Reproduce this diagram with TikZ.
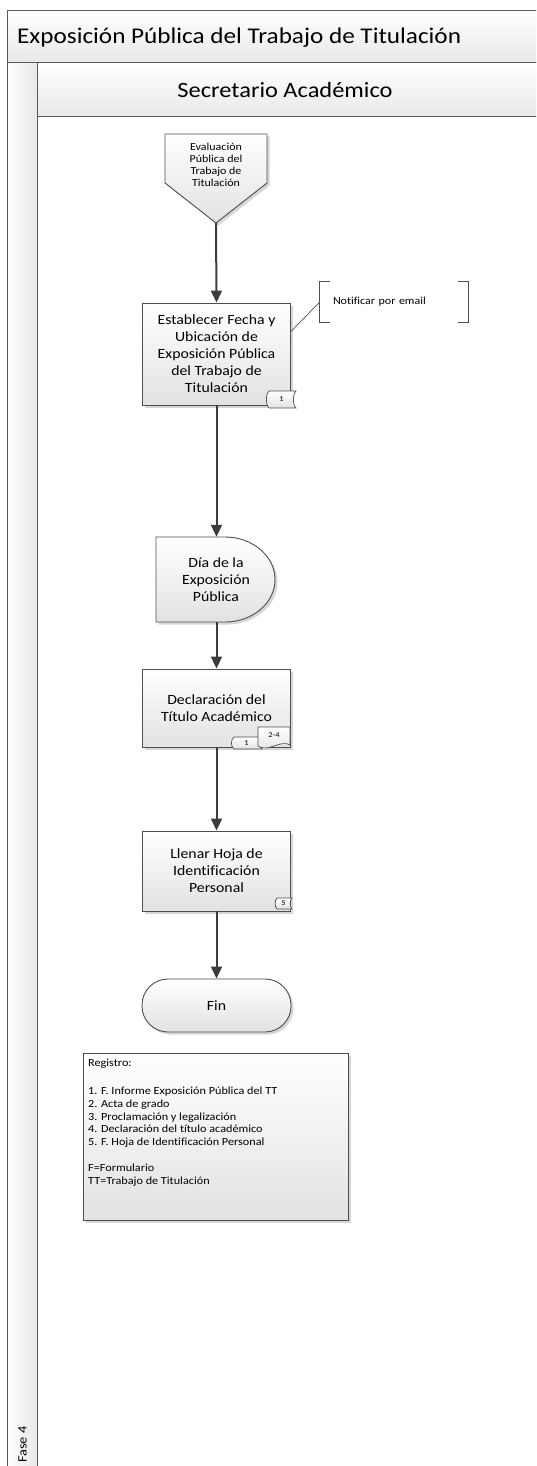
\documentclass[tikz,border=0pt]{standalone}
\usepackage{fontspec}
\setmainfont{Carlito}[FakeStretch=1.12, Ligatures=NoCommon]
\usetikzlibrary{arrows.meta,shadows,calc}

\definecolor{lanec}{HTML}{5A5A5A}
\definecolor{edgec}{HTML}{4F4F4F}
\definecolor{flowc}{HTML}{3C3C3C}
\definecolor{shadebot}{HTML}{E2E2E2}
\definecolor{headbot}{HTML}{E8E8E8}

\tikzset{
  shapefill/.style={top color=white, bottom color=shadebot, draw=edgec, line width=0.9pt},
  shad/.style={drop shadow={shadow xshift=2.5pt, shadow yshift=-2.5pt, opacity=0.16, fill=black}},
  procbox/.style={shapefill, shad, rectangle, minimum width=148pt, align=center,
    font=\fontsize{14.1}{17}\selectfont, inner sep=0pt},
  ghost/.style={rectangle, inner sep=0pt, align=center},
  flow/.style={draw=flowc, line width=2pt, -{Triangle[length=12pt,width=11pt]}},
  tagfill/.style={top color=white, bottom color=shadebot, draw=edgec, line width=0.7pt},
  tagtext/.style={font=\fontsize{7.5}{8}\selectfont, inner sep=0pt},
  bracketc/.style={draw=edgec, line width=0.9pt},
  headfill/.style={top color=white, bottom color=headbot, draw=lanec, line width=1pt},
}

\begin{document}
\begin{tikzpicture}[x=1pt,y=-1pt]
\useasboundingbox (0,0) rectangle (536,1466);
\clip (0,0) rectangle (536,1466);

% pool and lane frame
\path[headfill] (7,11) rectangle (545,63);
\node[anchor=west, font=\fontsize{22.5}{26}\selectfont, inner sep=0pt] (pool) at (17,37.5)
  {Exposición Pública del Trabajo de Titulación};
\path[draw=lanec, line width=1pt, left color=white, right color=headbot] (7,63) rectangle (37,1475);
\path[headfill] (37,63) rectangle (545,117);
\node[font=\fontsize{21.8}{26}\selectfont, inner sep=0pt] (lane) at (285,90) {Secretario Académico};
\node[rotate=90, anchor=west, font=\fontsize{12.75}{14}\selectfont, inner sep=0pt] (fase) at (22.5,1463) {Fase 4};

% off-page connector
\path[shapefill, shad] (165,134) -- (267,134) -- (267,183) -- (216,223) -- (165,183) -- cycle;
\node[ghost, minimum width=102pt, minimum height=89pt] (eval) at (216,178.5) {};
\node[ghost, font=\fontsize{10.7}{12}\selectfont] (evaltxt) at (216,165)
  {Evaluación\\Pública del\\Trabajo de\\Titulación};

% process: establish date and place
\node[procbox, minimum height=102pt] (b1) at (216.5,354)
  {Establecer Fecha y\\Ubicación de\\Exposición Pública\\del Trabajo de\\Titulación};
\path[tagfill] (269,391) -- (296,391) .. controls (292.5,394) and (292.5,405) .. (296,408)
  -- (269,408) .. controls (265.5,405) and (265.5,394) .. (269,391) -- cycle;
\node[tagtext] (tag1) at (281.5,399.5) {1};

% annotation
\node[ghost, minimum width=148pt, minimum height=40pt, text width=122pt, align=left,
  inner xsep=13pt, font=\fontsize{10.7}{12}\selectfont] (note) at (394,302) {Notificar por email};
\draw[bracketc] ($(note.north west)+(10,0)$) -- (note.north west) -- (note.south west) -- ++(10,0);
\draw[bracketc] ($(note.north east)+(-10,0)$) -- (note.north east) -- (note.south east) -- ++(-10,0);
\draw[draw=edgec, line width=0.7pt] ($(b1.north east)!0.28!(b1.south east)$) -- (note.west);

% delay: day of the exposition
\path[shapefill, shad] (156,537) -- (225,537) .. controls (252.6,537) and (275,556) .. (275,579.5)
  .. controls (275,603) and (252.6,622) .. (225,622) -- (156,622) -- cycle;
\node[ghost, minimum width=119pt, minimum height=85pt] (dia) at (216,579.5) {};
\node[ghost, font=\fontsize{14.1}{17}\selectfont] (diatxt) at (216,580)
  {Día de la\\Exposición\\Pública};

% process: declaration
\node[procbox, minimum height=78pt] (b3) at (216.5,708)
  {Declaración del\\Título Académico};
\path[tagfill] (234,737) -- (262,737) .. controls (258.5,740) and (258.5,746) .. (262,749)
  -- (234,749) .. controls (230.5,746) and (230.5,740) .. (234,737) -- cycle;
\node[tagtext] (tag3a) at (246.5,743) {1};
\path[tagfill] (258,727) -- (290,727) -- (290,745) .. controls (281,739) and (268,753) .. (258,746) -- cycle;
\node[tagtext] (tag3b) at (274,735) {2-4};

% process: personal identification sheet
\node[procbox, minimum height=80pt] (b4) at (216.5,871)
  {Llenar Hoja de\\Identificación\\Personal};
\path[tagfill] (277,898) -- (292,898) .. controls (289.5,900.5) and (289.5,906.5) .. (292,909)
  -- (277,909) .. controls (274.5,906.5) and (274.5,900.5) .. (277,898) -- cycle;
\node[tagtext] (tag4) at (283.5,903.5) {5};

% terminator
\node[shapefill, shad, rectangle, rounded corners=26pt, minimum width=149pt, minimum height=53pt,
  font=\fontsize{14.1}{17}\selectfont, inner sep=0pt] (fin) at (216.5,1005.5) {Fin};

% record list
\node[shapefill, shad, rectangle, anchor=north west, minimum width=265pt, minimum height=167pt,
  inner sep=0pt] (reg) at (83,1053) {};
\node[anchor=north west, align=left, inner sep=0pt, font=\fontsize{10.9}{12.8}\selectfont] (regtxt)
  at ($(reg.north west)+(5,6)$)
  {Registro:\\[15pt]
   1. F. Informe Exposición Pública del TT\\
   2. Acta de grado\\
   3. Proclamación y legalización\\
   4. Declaración del título académico\\
   5. F. Hoja de Identificación Personal\\[13pt]
   F=Formulario\\
   TT=Trabajo de Titulación};

% flow
\draw[flow] (eval.south) -- (b1.north);
\draw[flow] (b1.south) -- (b1.south |- dia.north);
\draw[flow] (b1.south |- dia.south) -- (b3.north);
\draw[flow] (b3.south) -- (b4.north);
\draw[flow] (b4.south) -- (fin.north);
\end{tikzpicture}
\end{document}
